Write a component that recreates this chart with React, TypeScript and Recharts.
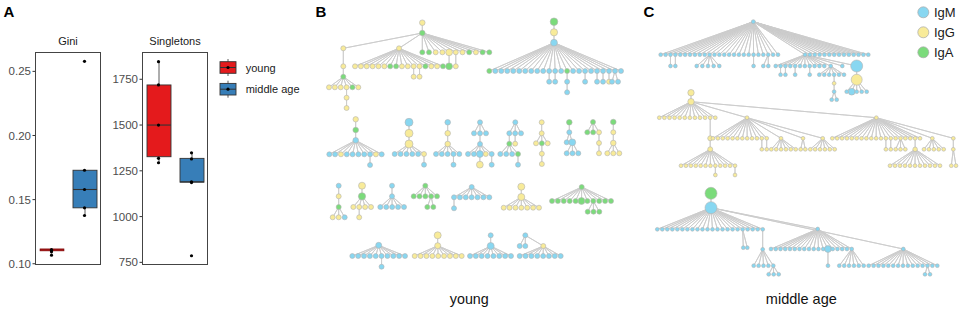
import React from 'react'
import { ComposedChart, Bar, Scatter, ScatterChart, XAxis, YAxis } from 'recharts'

const FONT = '"Liberation Sans", Arial, sans-serif'

// ---------- panel A: box plots ----------
const groups = ['young', 'middle age']
const groupColors = ['#e41a1c', '#377eb8']

const giniQ1 = [0.1103, 0.1436]
const giniMedian = [0.1108, 0.1579]
const giniQ3 = [0.1111, 0.1729]
const giniLow = [0.1103, 0.1376]
const giniHigh = [0.1111, 0.1729]
const giniPoints = [
  [0.1109, 0.1109, 0.1104, 0.1093, 0.1067],
  [0.2578, 0.1729, 0.1579, 0.1436, 0.1376],
]
const giniTicks = [0.1, 0.15, 0.2, 0.25]

const singQ1 = [1327, 1188]
const singMedian = [1500, 1190]
const singQ3 = [1719, 1318]
const singLow = [1294, 1188]
const singHigh = [1846, 1348]
const singPoints = [
  [1846, 1719, 1500, 1318, 1294],
  [1348, 1315, 1190, 1186, 786],
]
const singTicks = [750, 1000, 1250, 1500, 1750]

// ---------- panels B / C: lineage trees ----------
// fan = [parent id, child row y, first child x, last child x, isotypes, radius]
// isotypes: b = IgM, y = IgG, g = IgA, upper case = larger node
type Fan = [string, number, number | null, number | null, string, number?]
type Tree = { root: [number, number, string, number?]; fans: Fan[] }

const youngTrees: Tree[] = [
  { root: [422.3, 22.7, 'y', 2.8], fans: [
    ['r', 33, null, null, 'g', 2.8],
    ['0.0', 48.3, 343.3, 399, 'yy'],
    ['0.0', 52.3, 422.3, 489.3, 'ggyyYyygygg'],
    ['2.4', 66.3, null, null, 'G'],
    ['2.5', 66.3, null, null, 'y'],
    ['1.1', 66.3, 355, 443, 'yyyyyyggyyyygyyg'],
    ['5.10', 76.7, null, null, 'y'],
    ['5.11', 76.7, null, null, 'y'],
    ['1.0', 66.3, null, null, 'y'],
    ['8.0', 76.7, null, null, 'g'],
    ['9.0', 87.3, 329, 358.3, 'yyyygy'],
    ['10.3', 97.7, null, null, 'y'],
    ['11.0', 108, null, null, 'y'],
  ] },
  { root: [554, 21.7, 'g', 3.8], fans: [
    ['r', 32.3, null, null, 'y', 3.6],
    ['0.0', 42.7, null, null, 'b', 3.4],
    ['1.0', 71, 489.3, 621, 'gbbbbbbbbbbbbgbbbbbbbbb'],
    ['2.10', 81.7, null, null, 'b'],
    ['2.11', 81.7, null, null, 'b'],
    ['2.13', 81.7, null, null, 'b'],
    ['5.0', 92.3, null, null, 'b'],
    ['2.16', 81.7, null, null, 'b'],
    ['2.18', 81.7, null, null, 'b'],
    ['2.19', 81.7, null, null, 'b'],
    ['2.20', 81.7, null, null, 'y'],
    ['2.21', 81.7, 612, 618, 'bb'],
  ] },
  { root: [355.7, 119.3, 'y', 2.7], fans: [
    ['r', 130, null, null, 'g', 2.8],
    ['0.0', 140.3, null, null, 'b', 2.8],
    ['1.0', 154.3, 329.3, 381.7, 'bbybbbbbyb'],
    ['2.7', 165, null, null, 'b'],
  ] },
  { root: [409, 122.3, 'b', 4], fans: [
    ['r', 133.3, null, null, 'y', 4],
    ['0.0', 144, null, null, 'y', 4],
    ['1.0', 154, 394.7, 424, 'bbbbby'],
    ['2.5', 164.7, null, null, 'b'],
  ] },
  { root: [447.7, 122.3, 'b', 2.8], fans: [
    ['r', 133.3, null, null, 'y', 2.8],
    ['0.0', 144, null, null, 'y', 2.8],
    ['1.0', 154, 436, 459.3, 'bbbbb'],
    ['2.3', 164.7, null, null, 'b'],
  ] },
  { root: [480, 122.3, 'b'], fans: [
    ['r', 133.3, 474, 486, 'bbb'],
    ['0.1', 144, null, null, 'b'],
    ['1.0', 154, 468, 491.7, 'bbByb'],
    ['2.2', 164.7, null, null, 'Y'],
    ['2.4', 164.7, null, null, 'b'],
  ] },
  { root: [515.3, 122.3, 'b'], fans: [
    ['r', 133.3, 509.3, 521, 'bbb'],
    ['0.0', 143.7, null, null, 'g'],
    ['0.1', 143.7, null, null, 'y'],
    ['1.0', 154, 500.3, 518, 'bbbg'],
    ['3.3', 164.7, null, null, 'b'],
  ] },
  { root: [541.7, 122.3, 'y'], fans: [
    ['r', 133.3, null, null, 'y'],
    ['0.0', 143.3, 536, 547.7, 'ygy'],
    ['1.1', 153.7, null, null, 'y'],
    ['2.0', 164, null, null, 'y'],
  ] },
  { root: [569.3, 122.3, 'g', 2.8], fans: [
    ['r', 132.3, null, null, 'b'],
    ['0.0', 142.3, 566.7, 572.3, 'bB'],
    ['1.1', 153.3, 566.7, 578.3, 'bbb'],
  ] },
  { root: [593, 122, 'g'], fans: [
    ['r', 132.3, 587.3, 599, 'ggy'],
    ['0.2', 143, null, null, 'y'],
    ['1.0', 153.3, null, null, 'y'],
  ] },
  { root: [613.3, 122, 'g', 2.8], fans: [
    ['r', 132.3, null, null, 'y'],
    ['0.0', 143, null, null, 'y', 2.8],
    ['1.0', 153.3, 607.3, 619.3, 'yyy'],
  ] },
  { root: [338.7, 185.7, 'b'], fans: [
    ['r', 196.3, null, null, 'y'],
    ['0.0', 207, null, null, 'g'],
    ['1.0', 217.3, 332.7, 344.7, 'yyb'],
  ] },
  { root: [362, 185.7, 'y', 3.5], fans: [
    ['r', 196.3, null, null, 'G', 3.6],
    ['0.0', 207, 353.3, 371, 'yyyy'],
    ['1.1', 217.3, null, null, 'y'],
  ] },
  { root: [392, 185.7, 'b'], fans: [
    ['r', 196.3, null, null, 'b'],
    ['0.0', 207, 380.3, 404, 'bbbbb'],
  ] },
  { root: [425.3, 185.7, 'g'], fans: [
    ['r', 196.3, 413.7, 437, 'ggggg'],
    ['0.3', 207, 427.3, 433.3, 'gg'],
  ] },
  { root: [471.7, 187, 'b'], fans: [
    ['r', 197.3, 454, 489.3, 'bbbbbbb'],
    ['0.0', 208.3, null, null, 'b'],
  ] },
  { root: [521.3, 186.7, 'y', 3.5], fans: [
    ['r', 197, null, null, 'Y', 3.5],
    ['0.0', 207.7, 503.7, 539, 'yyyyyyy'],
  ] },
  { root: [581.7, 187, 'g'], fans: [
    ['r', 201, 552, 611, 'gggggGggggg'],
    ['0.7', 211.7, 587.7, 599.3, 'ggg'],
  ] },
  { root: [378.7, 245.3, 'b', 3], fans: [
    ['r', 256, 352.3, 405, 'bbbbbbbbbb'],
    ['0.5', 266.7, null, null, 'b'],
  ] },
  { root: [437.7, 235.3, 'y', 3.5], fans: [
    ['r', 245.7, null, null, 'y', 3],
    ['0.0', 256, 414.7, 461.7, 'yyyyyyyyy'],
  ] },
  { root: [490.7, 235.3, 'b'], fans: [
    ['r', 246, null, null, 'B', 3.5],
    ['0.0', 256, 470, 511, 'bbbbbbbb'],
  ] },
  { root: [525.3, 235.3, 'b'], fans: [
    ['r', 246, 519.7, 525.3, 'bb'],
    ['r', 246, 543.3, 543.3, 'y'],
    ['1.0', 256, 519.7, 560.7, 'bbbbbbbb'],
  ] },
]

const middleTrees: Tree[] = [
  { root: [753.3, 21.7, 'b', 2], fans: [
    ['r', 54.7, 660.7, 778, 'bbbbbbbbbbbbbbbbbbbbbbbbb'],
    ['r', 54.7, 805, 868.3, 'bbbbbbbbbbbbbb'],
    ['0.2', 66, null, null, 'b'],
    ['0.3', 66, null, null, 'b'],
    ['0.10', 66, 696.7, 719.3, 'bbbbb'],
    ['0.19', 66, null, null, 'b'],
    ['0.22', 66, 763.3, 768.3, 'bb'],
    ['1.0', 66, 775.7, 824.3, 'bbbbbbbbbbb'],
    ['1.0', 66, 830.7, 842.3, 'bb'],
    ['1.0', 66, 856.7, 856.7, 'b', 6],
    ['9.0', 79.7, null, null, 'y', 5.5],
    ['10.0', 91.7, 846.7, 866.7, 'bBbbb'],
    ['7.1', 74.7, null, null, 'b'],
    ['7.2', 74.7, null, null, 'b'],
    ['7.4', 74.7, null, null, 'b'],
    ['7.7', 74.7, null, null, 'b'],
    ['8.0', 74.7, 819.3, 844, 'bbbbbb'],
    ['16.3', 83.3, null, null, 'y'],
    ['17.0', 91.7, null, null, 'b'],
    ['18.0', 99.7, 831.7, 836.7, 'bb'],
  ] },
  { root: [691, 92.7, 'y', 3.2], fans: [
    ['r', 101.7, null, null, 'y', 3.2],
    ['0.0', 117.7, 659.3, 715.3, 'yyyyyyyyyyyy'],
    ['0.0', 117.7, 747, 747, 'y'],
    ['0.0', 117.7, 876.3, 876.3, 'y'],
    ['1.10', 138.3, null, null, 'y', 2.5],
    ['4.0', 149.3, null, null, 'y', 2.5],
    ['5.0', 165.7, 681, 735, 'yyyyyyyyyyyy'],
    ['6.7', 175, null, null, 'y'],
    ['6.11', 175, null, null, 'y'],
    ['2.0', 138.3, 713, 766.7, 'yyyyyyyyyyyy'],
    ['2.0', 138.3, 781, 781, 'y'],
    ['2.0', 138.3, 803, 803, 'y'],
    ['2.0', 138.3, 822.7, 822.7, 'y'],
    ['9.10', 149.3, null, null, 'y'],
    ['9.11', 149.3, null, null, 'y'],
    ['10.0', 149.3, 771.3, 795.7, 'yyyyyy'],
    ['11.0', 149.3, 800.7, 805.3, 'yy'],
    ['12.0', 149.3, 810.3, 834.7, 'yyyyyy'],
    ['3.0', 138.3, 832.3, 920, 'yyyyyyyyyyyyyyyyyyy'],
    ['3.0', 138.3, 932.3, 953.3, 'yy'],
    ['18.11', 149.3, null, null, 'y'],
    ['18.12', 149.3, null, null, 'y'],
    ['18.14', 149.3, 895.7, 905.3, 'yyy'],
    ['18.17', 149.3, null, null, 'y', 2.3],
    ['23.0', 165.7, 890, 940, 'yyyyyyyyyyy'],
    ['19.0', 149.3, 924, 943.7, 'yyyyy'],
    ['19.1', 149.3, null, null, 'y'],
    ['26.0', 165.7, 951.3, 956, 'yy'],
  ] },
  { root: [711, 193.3, 'g', 6], fans: [
    ['r', 207.7, null, null, 'b', 6],
    ['0.0', 229.3, 657.3, 762.7, 'bbbbbbbbbbbbbbbbbbbbbb'],
    ['0.0', 229, 817.7, 817.7, 'b'],
    ['0.0', 249, 903.3, 903.3, 'b'],
    ['1.17', 247.7, 743.3, 747.3, 'bb'],
    ['1.21', 249.3, null, null, 'b'],
    ['5.0', 265.7, 753.7, 773.3, 'bbbbb'],
    ['6.4', 274.3, 768.7, 778.7, 'bbb'],
    ['2.0', 249, 771, 851.7, 'bbbbbbbbbbbbBbbbbb'],
    ['8.12', 265.7, null, null, 'b'],
    ['8.17', 265.7, 839.3, 863.7, 'bbbbbb'],
    ['3.0', 265.7, 868.7, 937.3, 'bbbbbbbbbbbbbbb'],
    ['11.12', 274.3, 925, 930, 'bb'],
  ] },
]

const isoColor: Record<string, string> = { b: '#88d7f1', y: '#f8eb99', g: '#7bdb7b' }
const BIG_R = 3.4

type Node = { x: number; y: number; iso: string; r: number; kids: Node[] }

function buildTree(tree: Tree, baseR: number) {
  const [rx, ry, riso, rr] = tree.root
  const root: Node = { x: rx, y: ry, iso: riso, r: rr ?? baseR, kids: [] }
  const byId: Record<string, Node> = { r: root }
  const nodes: Node[] = [root]
  tree.fans.forEach(([pid, y, x0, x1, isos, fr], k) => {
    const p = byId[pid]
    const n = isos.length
    for (let i = 0; i < n; i++) {
      const ch = isos[i]
      const x = x0 == null ? p.x : x1 == null || n === 1 ? x0 : x0 + ((x1 - x0) * i) / (n - 1)
      const up = ch !== ch.toLowerCase()
      const node: Node = { x, y, iso: ch.toLowerCase(), r: fr ?? (up ? BIG_R : baseR), kids: [] }
      p.kids.push(node)
      byId[`${k}.${i}`] = node
      nodes.push(node)
    }
  })
  // euler tour so a single polyline only walks along tree edges
  const tour: { x: number; y: number }[] = []
  const walk = (n: Node) => {
    tour.push({ x: n.x, y: n.y })
    n.kids.forEach((c) => {
      walk(c)
      tour.push({ x: n.x, y: n.y })
    })
  }
  walk(root)
  return { nodes, tour }
}

const built = [
  ...youngTrees.map((t) => buildTree(t, 2.5)),
  ...middleTrees.map((t) => buildTree(t, 1.9)),
]
const allNodes = built.flatMap((b) => b.nodes.map(({ x, y, iso, r }) => ({ x, y, iso, r })))

// ---------- shapes ----------
function BoxShape(props: any) {
  const { x, y, width, height, payload } = props
  const top = Math.min(y, y + height)
  const h = Math.abs(height)
  const [lo, hi] = payload.range
  const py = (v: number) => top + ((hi - v) / (hi - lo)) * h
  const cx = x + width / 2
  const b1 = py(payload.q3)
  const b2 = py(payload.q1)
  const m = py(payload.med)
  const thin = b2 - b1 < 3
  return (
    <g>
      <line x1={cx} x2={cx} y1={top} y2={top + h} stroke="#333" strokeWidth={0.8} />
      <rect
        x={x} y={thin ? m - 1 : b1} width={width} height={thin ? 2 : b2 - b1}
        fill={groupColors[payload.i]} stroke={thin ? '#7a1010' : '#333'} strokeWidth={thin ? 0.6 : 0.9}
      />
      <line x1={x} x2={x + width} y1={m} y2={m} stroke={thin ? '#5a0c0c' : '#333'} strokeWidth={thin ? 0.8 : 1.1} />
    </g>
  )
}

const PointDot = (p: any) => <circle cx={p.cx} cy={p.cy} r={1.6} fill="#000" />
const NoDot = () => <g />
const NodeDot = (p: any) => (
  <circle cx={p.cx} cy={p.cy} r={p.payload.r} fill={isoColor[p.payload.iso]} stroke="#b4b4b4" strokeWidth={0.6} />
)

function boxRows(q1: number[], med: number[], q3: number[], lo: number[], hi: number[], pts: number[][]) {
  return groups.map((g, i) => {
    const row: any = {
      g, i, q1: q1[i], med: med[i], q3: q3[i],
      range: [Math.min(lo[i], q1[i]), Math.max(hi[i], q3[i])],
    }
    pts[i].forEach((v, k) => { row['p' + k] = v })
    return row
  })
}

function BoxPanel({ rows, domain, ticks, fmt, left }: any) {
  return (
    <div style={{ position: 'absolute', left, top: 0 }}>
      <ComposedChart width={101} height={276} data={rows} margin={{ top: 52, right: 0, bottom: 12, left: 0 }}>
        <XAxis dataKey="g" type="category" hide />
        <YAxis
          type="number" domain={domain} ticks={ticks} allowDataOverflow interval={0}
          width={35} axisLine={false} tickSize={2.5} tickMargin={1.5}
          tickLine={{ stroke: '#333' }} tickFormatter={fmt}
          tick={{ fill: '#4d4d4d', fontSize: 11.5, fontFamily: FONT }}
        />
        <Bar dataKey="range" barSize={24} shape={BoxShape} isAnimationActive={false} />
        {[0, 1, 2, 3, 4].map((k) => (
          <Scatter key={k} dataKey={'p' + k} shape={PointDot} isAnimationActive={false} />
        ))}
      </ComposedChart>
      <div style={{ position: 'absolute', left: 35, top: 52, width: 66, height: 213, border: '1px solid #444', boxSizing: 'border-box' }} />
    </div>
  )
}

export default function App() {
  const giniRows = boxRows(giniQ1, giniMedian, giniQ3, giniLow, giniHigh, giniPoints)
  const singRows = boxRows(singQ1, singMedian, singQ3, singLow, singHigh, singPoints)
  return (
    <div style={{ position: 'absolute', left: 0, top: 0, width: 961, height: 311, background: '#fff', fontFamily: FONT, overflow: 'hidden' }}>
      <BoxPanel rows={giniRows} domain={[0.0998, 0.2651]} ticks={giniTicks} fmt={(v: number) => v.toFixed(2)} left={0} />
      <BoxPanel rows={singRows} domain={[741, 1899]} ticks={singTicks} fmt={(v: number) => String(v)} left={107} />

      <div style={{ position: 'absolute', left: 310, top: 0 }}>
        <ScatterChart width={651} height={311} margin={{ top: 0, right: 0, bottom: 0, left: 0 }}>
          <XAxis type="number" dataKey="x" domain={[310, 961]} allowDataOverflow hide />
          <YAxis type="number" dataKey="y" domain={[0, 311]} allowDataOverflow reversed hide />
          {built.map((b, i) => (
            <Scatter
              key={'e' + i} data={b.tour} shape={NoDot} isAnimationActive={false}
              line={{ stroke: '#cccccc', strokeWidth: 0.9 }}
            />
          ))}
          <Scatter data={allNodes} shape={NodeDot} isAnimationActive={false} />
        </ScatterChart>
      </div>

      <svg width={961} height={311} style={{ position: 'absolute', left: 0, top: 0, pointerEvents: 'none' }} fontFamily={FONT}>
        <text x={3.5} y={17.3} fontSize={15} fontWeight="bold">A</text>
        <text x={315.5} y={16.8} fontSize={15} fontWeight="bold">B</text>
        <text x={643.5} y={16.8} fontSize={15} fontWeight="bold">C</text>

        <text x={68} y={45} fontSize={11} textAnchor="middle" fill="#1a1a1a">Gini</text>
        <text x={175} y={45} fontSize={11} textAnchor="middle" fill="#1a1a1a">Singletons</text>

        {groups.map((g, i) => {
          const cy = 67.5 + i * 21.7
          return (
            <g key={g}>
              <line x1={228} x2={228} y1={cy - 8.5} y2={cy + 8.5} stroke="#333" strokeWidth={0.8} />
              <rect x={220} y={cy - 5.8} width={16} height={11.6} fill={groupColors[i]} stroke="#333" strokeWidth={0.9} />
              <line x1={220} x2={236} y1={cy} y2={cy} stroke="#333" strokeWidth={1} />
              <circle cx={228} cy={cy} r={1.6} fill="#000" />
              <text x={245.7} y={cy + 4} fontSize={11} fill="#1a1a1a">{g}</text>
            </g>
          )
        })}

        {[['b', 'IgM'], ['y', 'IgG'], ['g', 'IgA']].map(([k, label], i) => (
          <g key={k}>
            <circle cx={923.3} cy={12.3 + i * 20} r={5.5} fill={isoColor[k]} stroke="#a8a8a8" strokeWidth={0.7} />
            <text x={934} y={12.3 + i * 20 + 4.7} fontSize={13} fill="#1a1a1a">{label}</text>
          </g>
        ))}

        <text x={469.3} y={303.5} fontSize={14.3} textAnchor="middle" fill="#111">young</text>
        <text x={801.3} y={303.5} fontSize={14.5} textAnchor="middle" fill="#111">middle age</text>
      </svg>
    </div>
  )
}
